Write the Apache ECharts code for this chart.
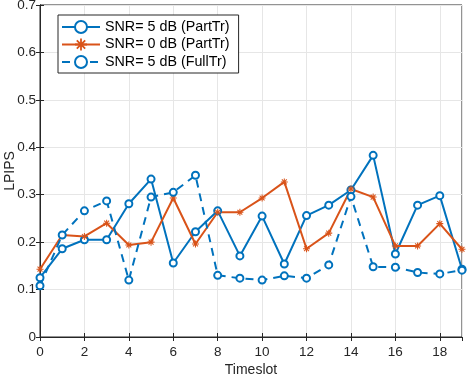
<!DOCTYPE html>
<html>
<head>
<meta charset="utf-8">
<script src="https://cdn.jsdelivr.net/npm/echarts@6/dist/echarts.min.js"></script>
<style>
  html, body { margin: 0; padding: 0; background: #fff; }
  #chart { width: 468px; height: 377px; }
</style>
</head>
<body>
<div id="chart"></div>
<script>
// timeslots 0..19
var timeslots = [0, 1, 2, 3, 4, 5, 6, 7, 8, 9, 10, 11, 12, 13, 14, 15, 16, 17, 18, 19]
// SNR = 5 dB, partial training
var snr5Part = [0.125, 0.186, 0.205, 0.205, 0.281, 0.333, 0.156, 0.222, 0.266, 0.171, 0.255, 0.154, 0.256, 0.278, 0.31, 0.383, 0.175, 0.278, 0.298, 0.143]
// SNR = 0 dB, partial training
var snr0Part = [0.143, 0.215, 0.212, 0.24, 0.194, 0.2, 0.293, 0.196, 0.263, 0.263, 0.293, 0.327, 0.186, 0.219, 0.312, 0.295, 0.192, 0.192, 0.239, 0.185]
// SNR = 5 dB, full training
var snr5Full = [0.108, 0.215, 0.266, 0.287, 0.12, 0.295, 0.305, 0.341, 0.13, 0.124, 0.12, 0.129, 0.124, 0.152, 0.296, 0.148, 0.147, 0.136, 0.133, 0.141]

var seriesNames = ['SNR= 5 dB (PartTr)', 'SNR= 0 dB (PartTr)', 'SNR= 5 dB (FullTr)']

var blue = '#0072BD'
var orange = '#D95319'
var axisColor = '#262626'
var fontFam = '"Liberation Sans", Arial, Helvetica, sans-serif'

// asterisk marker (plus + cross), all subpaths clockwise
var asterisk = 'path://M-0.15,-1L0.15,-1L0.15,1L-0.15,1Z' +
  'M-1,-0.15L1,-0.15L1,0.15L-1,0.15Z' +
  'M-0.594,-0.806L0.806,0.594L0.594,0.806L-0.806,-0.594Z' +
  'M0.594,-0.806L0.806,-0.594L-0.594,0.806L-0.806,0.594Z'

function pairs (ys) {
  return timeslots.map(function (x, i) { return [x, ys[i]] })
}

var chart = echarts.init(document.getElementById('chart'))

var option = {
  animation: false,
  textStyle: { fontFamily: fontFam },
  grid: {
    left: 40,
    right: 6,
    top: 5,
    bottom: 40,
    outerBoundsMode: 'none',
    containLabel: false,
    show: true,
    borderColor: axisColor,
    borderWidth: 1
  },
  legend: {
    orient: 'vertical',
    left: 58,
    top: 15,
    padding: [5, 9, 4, 3],
    itemGap: 3.5,
    itemWidth: 38,
    itemHeight: 15,
    itemTextGap: 3,
    backgroundColor: '#fff',
    borderColor: axisColor,
    borderWidth: 1,
    borderRadius: 0,
    textStyle: { fontSize: 14.3, color: '#000', fontFamily: fontFam },
    data: seriesNames
  },
  xAxis: [
    {
      type: 'value',
      min: 0,
      max: 19,
      interval: 2,
      name: 'Timeslot',
      nameLocation: 'middle',
      nameGap: 26,
      nameMoveOverlap: false,
      nameTextStyle: { fontSize: 14, color: axisColor },
      axisLine: { show: true, onZero: false, lineStyle: { color: axisColor } },
      axisTick: { show: true, inside: true, length: 4, lineStyle: { color: axisColor } },
      axisLabel: { fontSize: 13.5, color: axisColor, margin: 8, showMaxLabel: false },
      splitLine: { show: true, lineStyle: { color: '#e6e6e6', width: 1 } }
    },
    {
      type: 'value',
      position: 'top',
      min: 0,
      max: 19,
      interval: 2,
      axisLine: { show: true, lineStyle: { color: axisColor } },
      axisTick: { show: true, inside: true, length: 4, lineStyle: { color: axisColor } },
      axisLabel: { show: false },
      splitLine: { show: false }
    }
  ],
  yAxis: [
    {
      type: 'value',
      min: 0,
      max: 0.7,
      interval: 0.1,
      name: 'LPIPS',
      nameLocation: 'middle',
      nameGap: 23,
      nameMoveOverlap: false,
      nameTextStyle: { fontSize: 14, color: axisColor },
      axisLine: { show: true, lineStyle: { color: axisColor } },
      axisTick: { show: true, inside: true, length: 4, lineStyle: { color: axisColor } },
      axisLabel: {
        fontSize: 13.5,
        color: axisColor,
        margin: 4,
        formatter: function (v) { return v === 0 ? '0' : v.toFixed(1) }
      },
      splitLine: { show: true, lineStyle: { color: '#e6e6e6', width: 1 } }
    },
    {
      type: 'value',
      position: 'right',
      min: 0,
      max: 0.7,
      interval: 0.1,
      axisLine: { show: true, lineStyle: { color: axisColor } },
      axisTick: { show: true, inside: true, length: 4, lineStyle: { color: axisColor } },
      axisLabel: { show: false },
      splitLine: { show: false }
    }
  ],
  series: [
    {
      name: seriesNames[0],
      type: 'line',
      data: pairs(snr5Part),
      symbol: 'emptyCircle',
      symbolSize: 7,
      lineStyle: { color: blue, width: 2 },
      itemStyle: { color: blue, borderColor: blue, borderWidth: 1.6 }
    },
    {
      name: seriesNames[1],
      type: 'line',
      data: pairs(snr0Part),
      symbol: asterisk,
      symbolSize: 7,
      lineStyle: { color: orange, width: 2 },
      itemStyle: { color: orange, borderWidth: 0 }
    },
    {
      name: seriesNames[2],
      type: 'line',
      data: pairs(snr5Full),
      symbol: 'emptyCircle',
      symbolSize: 7,
      lineStyle: { color: blue, width: 2, type: [8, 6] },
      itemStyle: { color: blue, borderColor: blue, borderWidth: 1.6 }
    }
  ]
}

chart.setOption(option)
</script>
</body>
</html>
